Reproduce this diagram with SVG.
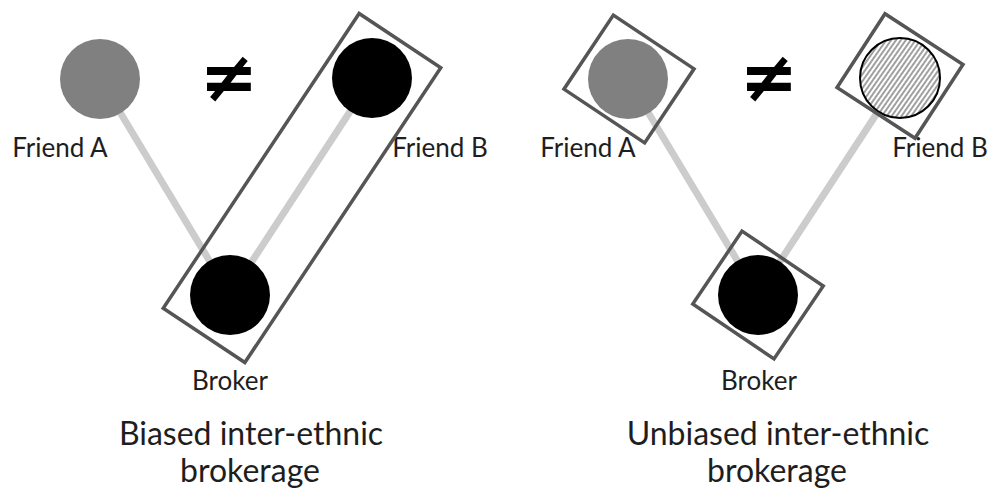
<svg xmlns="http://www.w3.org/2000/svg" width="990" height="499" viewBox="0 0 990 499">
<style>
.lbl{font-family:Lato,"Liberation Sans",sans-serif;font-size:26px;fill:#1e1e1e;text-anchor:middle}
.ttl{font-family:Lato,"Liberation Sans",sans-serif;font-size:32px;fill:#1e1e1e;text-anchor:middle}
.neq{font-family:"DejaVu Sans",sans-serif;font-weight:bold;font-size:70px;fill:#000;text-anchor:middle}
.edge{stroke:#cccccc;stroke-width:7;fill:none}
.box{fill:none;stroke:#555;stroke-width:3.5}
.gray{fill:#808080}
.blk{fill:#000}
</style>
<defs>
<pattern id="hatch" width="4" height="4" patternUnits="userSpaceOnUse" patternTransform="rotate(35)">
<rect width="4" height="4" fill="#fff"/>
<line x1="1" y1="0" x2="1" y2="4" stroke="#888" stroke-width="1.6"/>
</pattern>
</defs>
<g id="connectors">
<line class="edge" x1="100" y1="79" x2="230" y2="295"/>
<line class="edge" x1="372" y1="78" x2="230" y2="295"/>
<line class="edge" x1="628" y1="79" x2="758" y2="295"/>
<line class="edge" x1="900" y1="78" x2="758" y2="295"/>
</g>
<g id="left-friendA"><circle class="gray" cx="100" cy="79" r="40"/><text class="lbl" x="60" y="157">Friend A</text></g>
<g id="left-friendB"><circle class="blk" cx="372" cy="78" r="40"/><text class="lbl" x="440" y="157">Friend B</text></g>
<g id="left-broker"><circle class="blk" cx="230" cy="295" r="40"/><text class="lbl" x="230" y="390">Broker</text></g>
<g id="left-box"><rect class="box" x="253" y="11" width="98" height="354" transform="rotate(33.6 302 188)"/></g>
<g id="left-neq"><text class="neq" x="229" y="101">≠</text></g>
<g id="left-title"><text class="ttl" x="251" y="445">Biased inter-ethnic</text><text class="ttl" x="250" y="482">brokerage</text></g>

<g id="right-friendA"><circle class="gray" cx="628" cy="79" r="40"/><rect class="box" x="580.5" y="34.5" width="97" height="89" transform="rotate(33.7 629 79)"/><text class="lbl" x="588" y="157">Friend A</text></g>
<g id="right-friendB"><circle cx="900" cy="78" r="40" fill="url(#hatch)" stroke="#000" stroke-width="2"/><rect class="box" x="853.5" y="32" width="93" height="88" transform="rotate(33 900 76)"/><text class="lbl" x="940" y="157">Friend B</text></g>
<g id="right-broker"><circle class="blk" cx="758" cy="295" r="40"/><rect class="box" x="709" y="251" width="98" height="88" transform="rotate(34 758 295)"/><text class="lbl" x="759" y="390">Broker</text></g>
<g id="right-neq"><text class="neq" x="769" y="101">≠</text></g>
<g id="right-title"><text class="ttl" x="778" y="445">Unbiased inter-ethnic</text><text class="ttl" x="777" y="482">brokerage</text></g>
</svg>
